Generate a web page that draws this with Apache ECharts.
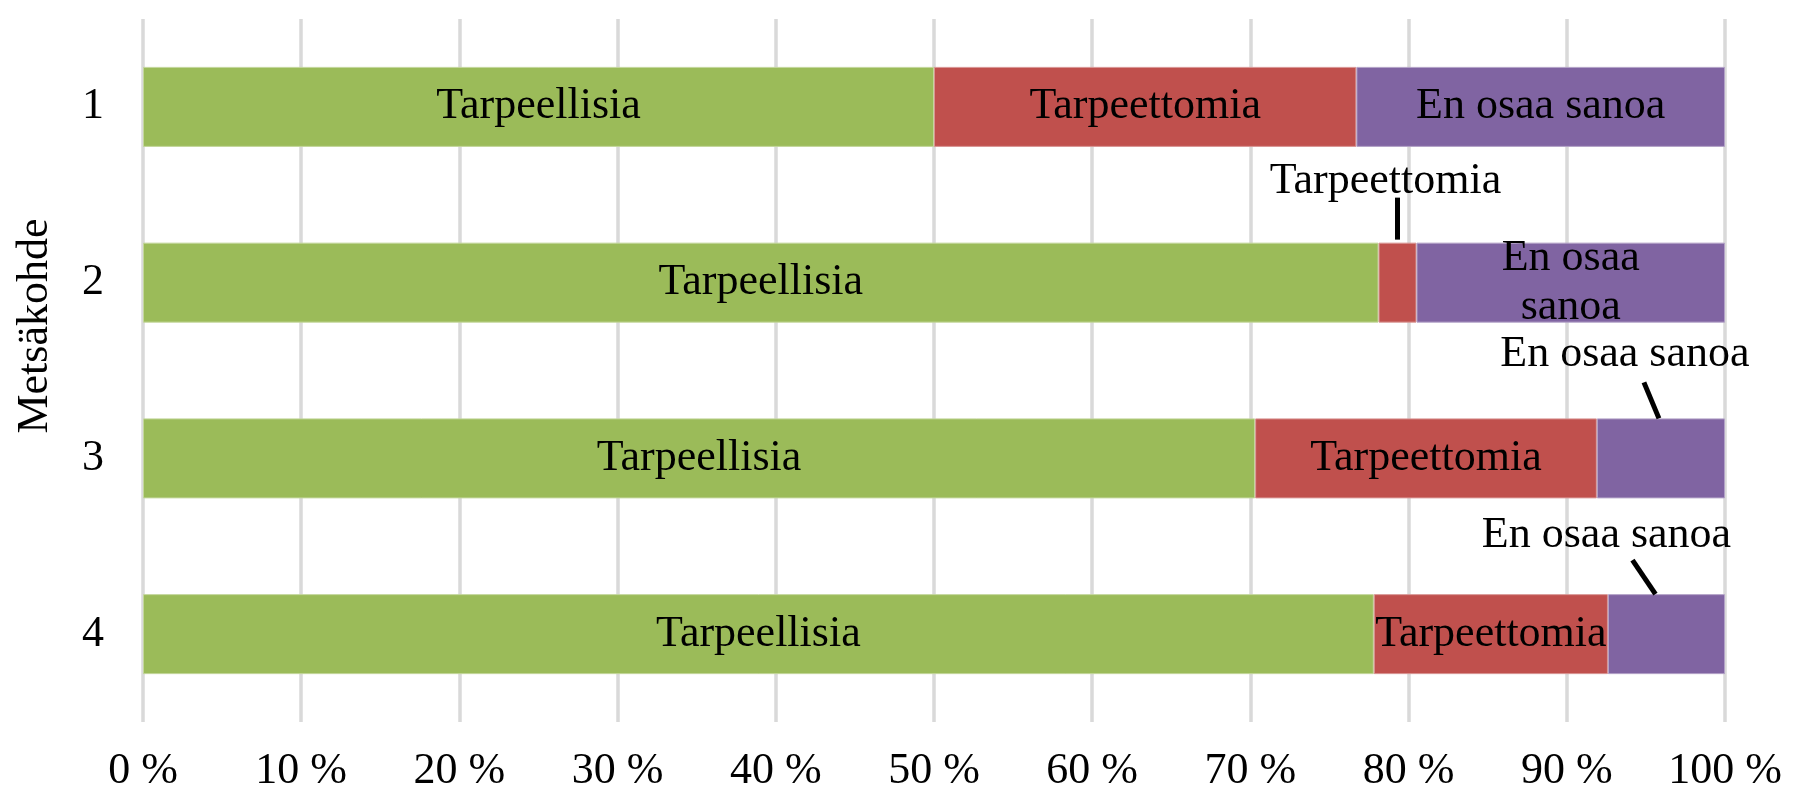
<!DOCTYPE html>
<html>
<head>
<meta charset="utf-8">
<script src="https://cdn.jsdelivr.net/npm/echarts@6/dist/echarts.min.js"></script>
<style>
  html, body { margin: 0; padding: 0; background: #fff; }
  #chart { width: 1805px; height: 795px; }
</style>
</head>
<body>
<div id="chart"></div>
<script>
// ---- data ----
const categories = ['1', '2', '3', '4'];
const seriesNames = ['Tarpeellisia', 'Tarpeettomia', 'En osaa sanoa'];
const tarpeellisia = [50.0, 78.1, 70.3, 77.8];
const tarpeettomia = [26.7, 2.4, 21.6, 14.8];
const enOsaaSanoa = [23.3, 19.5, 8.1, 7.4];
const xTicks = [0, 10, 20, 30, 40, 50, 60, 70, 80, 90, 100];
const axisTitle = 'Metsäkohde';

// ---- style ----
const FONT = '"Liberation Serif", "Times New Roman", serif';
const FS = 44;
const colors = ['#9BBB59', '#C0504D', '#8064A2'];
const borders = ['#C3D69B', '#D99694', '#B3A2C7'];
const BAR_W = 80;

const values = [tarpeellisia, tarpeettomia, enOsaaSanoa];

// Labels drawn outside their segment, with a leader line (layout config)
const outside = [
  { s: 1, c: 1, dx: -12, dy: -61, l0: [12, 16], l1: [0, -3] },
  { s: 2, c: 2, dx: -36, dy: -64, l0: [19, 28], l1: [-2, 0] },
  { s: 2, c: 3, dx: -60, dy: -59, l0: [26, 25], l1: [-11, 0] }
];
function isOutside(s, c) { return outside.some(o => o.s === s && o.c === c); }

const barSeries = values.map((arr, s) => ({
  name: seriesNames[s],
  type: 'bar',
  stack: 'total',
  barWidth: BAR_W,
  itemStyle: { color: colors[s], borderColor: borders[s], borderWidth: 1 },
  label: {
    show: true,
    position: 'inside',
    color: '#000',
    fontFamily: FONT,
    fontSize: FS,
    formatter: () => seriesNames[s]
  },
  data: arr.map((v, c) => {
    const item = { value: v };
    if (isOutside(s, c)) item.label = { show: false };
    if (s === 2 && c === 1) item.label = { show: true, formatter: 'En osaa\nsanoa', lineHeight: 49 };
    return item;
  })
}));

// custom series for outside labels with leader lines, positioned from the data
const outsideData = outside.map(o => {
  let start = 0;
  for (let k = 0; k < o.s; k++) start += values[k][o.c];
  return [o.c, start, start + values[o.s][o.c]];
});

const labelSeries = {
  type: 'custom',
  coordinateSystem: 'cartesian2d',
  clip: false,
  silent: true,
  z: 10,
  encode: { x: [1, 2], y: 0 },
  data: outsideData,
  renderItem: function (params, api) {
    const o = outside[params.dataIndex];
    const cat = api.value(0), a = api.value(1), b = api.value(2);
    const ctr = api.coord([(a + b) / 2, cat]);
    const topX = ctr[0], topY = ctr[1] - BAR_W / 2;
    const tx = topX + o.dx, ty = topY + o.dy;
    return {
      type: 'group',
      children: [
        {
          type: 'line',
          shape: { x1: tx + o.l0[0], y1: ty + o.l0[1], x2: topX + o.l1[0], y2: topY + o.l1[1] },
          style: { stroke: '#000', lineWidth: 5 }
        },
        {
          type: 'text',
          style: {
            text: seriesNames[o.s],
            x: tx, y: ty,
            align: 'center', verticalAlign: 'middle',
            font: FS + 'px ' + FONT,
            fill: '#000'
          }
        }
      ]
    };
  }
};

const chart = echarts.init(document.getElementById('chart'));
chart.setOption({
  animation: false,
  backgroundColor: '#fff',
  grid: { left: 143, right: 80, top: 19, bottom: 73, containLabel: false },
  xAxis: {
    type: 'value',
    min: xTicks[0],
    max: xTicks[xTicks.length - 1],
    interval: xTicks[1] - xTicks[0],
    axisLine: { show: false },
    axisTick: { show: false },
    splitLine: { show: true, lineStyle: { color: '#D9D9D9', width: 3.5 } },
    axisLabel: {
      margin: 27,
      color: '#000',
      fontFamily: FONT,
      fontSize: FS,
      formatter: '{value} %'
    }
  },
  yAxis: {
    type: 'category',
    inverse: true,
    data: categories,
    axisLine: { show: false },
    axisTick: { show: false },
    splitLine: { show: false },
    axisLabel: { margin: 39, color: '#000', fontFamily: FONT, fontSize: FS }
  },
  graphic: [{
    type: 'text',
    x: 35, y: 326,
    rotation: Math.PI / 2,
    style: {
      text: axisTitle,
      align: 'center', verticalAlign: 'middle',
      font: FS + 'px ' + FONT,
      fill: '#000'
    }
  }],
  series: barSeries.concat([labelSeries])
});
</script>
</body>
</html>
